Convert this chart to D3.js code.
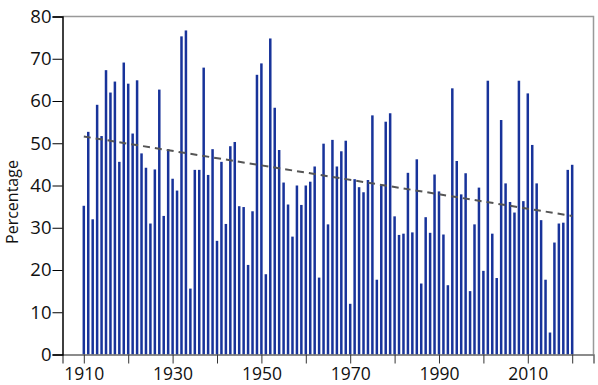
<!DOCTYPE html>
<html>
<head>
<meta charset="utf-8">
<script src="https://cdn.jsdelivr.net/npm/d3@7"></script>
<style>
    body { margin: 0; background: #fff; }
    svg text { font-family: "Open Sans", sans-serif; fill: #111; }
</style>
</head>
<body>
<div id="chart"></div>
<script>
// Percentage per year
const years = d3.range(1910, 2021);
const values = [
    35.2, 52.7, 32.0, 59.1, 51.7, 67.3, 62.0, 64.6, 45.6, 69.1,
    64.1, 52.3, 64.9, 47.6, 44.2, 31.0, 43.8, 62.7, 32.8, 48.6,
    41.6, 38.8, 75.3, 76.7, 15.6, 43.7, 43.7, 67.9, 42.5, 48.6,
    26.9, 45.6, 30.9, 49.3, 50.3, 35.1, 34.9, 21.2, 33.9, 66.2,
    68.9, 19.0, 74.8, 58.4, 48.4, 40.7, 35.5, 27.9, 40.0, 35.4,
    40.0, 40.9, 44.5, 18.2, 49.9, 30.8, 50.8, 44.5, 48.1, 50.6,
    12.0, 41.5, 39.6, 38.4, 41.3, 56.6, 17.7, 40.0, 55.1, 57.1,
    32.7, 28.3, 28.6, 43.0, 28.9, 46.2, 16.8, 32.5, 28.8, 42.6,
    38.6, 28.4, 16.4, 63.0, 45.8, 37.9, 42.9, 15.0, 30.8, 39.5,
    19.8, 64.8, 28.6, 18.1, 55.5, 40.5, 36.1, 33.6, 64.8, 36.3,
    61.8, 49.6, 40.5, 31.8, 17.7, 5.2, 26.5, 31.0, 31.2, 43.7,
    44.9
];
// dashed trend line endpoints
const trendYears = [1910, 2020];
const trendValues = [51.6, 32.8];

const yTicks = d3.range(0, 81, 10);
const xTicks = d3.range(1910, 2021, 10);
const xLabels = [1910, 1930, 1950, 1970, 1990, 2010];

const width = 598, height = 385;
const margin = { top: 16.5, right: 4.5, bottom: 30.5, left: 62.5 };

const svg = d3.select("#chart").append("svg")
    .attr("width", width)
    .attr("height", height);

const x = d3.scaleLinear()
    .domain([1905.2, 2024.8])
    .range([margin.left, width - margin.right]);

const y = d3.scaleLinear()
    .domain([0, 80])
    .range([height - margin.bottom, margin.top]);

// frame (top and right in grey)
svg.append("path")
    .attr("d", `M${margin.left},${margin.top}H${width - margin.right}V${height - margin.bottom}`)
    .attr("fill", "none")
    .attr("stroke", "#999")
    .attr("stroke-width", 1.5);

// bars
const barW = 2.5;
svg.append("g")
    .selectAll("rect")
    .data(years)
    .join("rect")
    .attr("x", (d) => x(d) - barW / 2)
    .attr("y", (d, i) => y(values[i]))
    .attr("width", barW)
    .attr("height", (d, i) => y(0) - y(values[i]))
    .attr("fill", "#18339a");

// trend line
svg.append("line")
    .attr("x1", x(trendYears[0]))
    .attr("y1", y(trendValues[0]))
    .attr("x2", x(trendYears[1]))
    .attr("y2", y(trendValues[1]))
    .attr("stroke", "#555")
    .attr("stroke-width", 2)
    .attr("stroke-dasharray", "7,5");

// x axis
const xAxis = svg.append("g")
    .attr("transform", `translate(0,${y(0)})`)
    .call(d3.axisBottom(x)
        .tickValues(xTicks)
        .tickSize(9)
        .tickFormat((d) => xLabels.includes(d) ? d : ""));
xAxis.select(".domain").attr("stroke", "#666").attr("stroke-width", 1.5);
xAxis.selectAll(".tick line").attr("stroke", "#333");
xAxis.selectAll("text")
    .attr("dy", "0.95em")
    .attr("y", 9)
    .style("font-size", "17.5px");

// y axis
const yAxis = svg.append("g")
    .attr("transform", `translate(${margin.left},0)`)
    .call(d3.axisLeft(y)
        .tickValues(yTicks)
        .tickSize(10)
        .tickPadding(1));
yAxis.select(".domain").attr("stroke", "#000").attr("stroke-width", 1.5);
yAxis.selectAll(".tick line").attr("stroke", "#000");
yAxis.selectAll("text").style("font-size", "18.5px");

// y label
svg.append("text")
    .attr("transform", `translate(18,202) rotate(-90)`)
    .attr("text-anchor", "middle")
    .style("font-size", "16px")
    .text("Percentage");
</script>
</body>
</html>
